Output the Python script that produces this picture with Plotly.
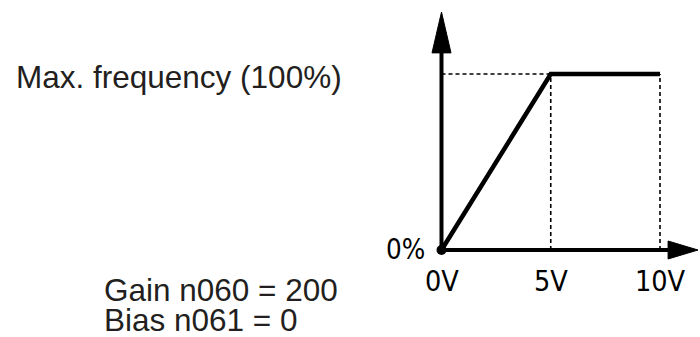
import plotly.graph_objects as go

# ---- data ----
volts = [0, 5, 10]                 # input voltage (V)
freq_pct = [0, 100, 100]           # output frequency (% of max)
tick_volts = [0, 5, 10]
tick_labels = ["0V", "5V", "10V"]
y_label_0 = "0%"
max_label = "Max. frequency (100%)"
gain_text = "Gain n060 = 200"
bias_text = "Bias n061 = 0"
x_axis_end = 10.37    # where x-axis shaft ends (V)
x_arrow_tip = 11.74
y_axis_end = 112.0    # where y-axis shaft ends (%)
y_arrow_tip = 135.2

# pixel-ish scaling of the frame
W, H = 700, 337
x0_px, x10_px = 441.5, 660.0
y0_px, y100_px = 250.0, 74.0
sx = (x10_px - x0_px) / 10.0
sy = (y0_px - y100_px) / 100.0
x_range = [-x0_px / sx, (W - x0_px) / sx]
y_range = [-(H - y0_px) / sy, y0_px / sy]

# arrowhead half-sizes in data units
ax_half_w = 9.5 / sx
ay_half_h = 9.0 / sy

fig = go.Figure()

# dashed guide lines
dash = dict(color="black", width=1.6, dash="4px,3px")
fig.add_trace(go.Scatter(x=[0, volts[1]], y=[freq_pct[1], freq_pct[1]], mode="lines", line=dash))
fig.add_trace(go.Scatter(x=[volts[1], volts[1]], y=[0, freq_pct[1]], mode="lines", line=dash))
fig.add_trace(go.Scatter(x=[volts[2], volts[2]], y=[0, freq_pct[2]], mode="lines", line=dash))

# axes shafts
fig.add_trace(go.Scatter(x=[0, x_axis_end], y=[0, 0], mode="lines", line=dict(color="black", width=4)))
fig.add_trace(go.Scatter(x=[0, 0], y=[0, y_axis_end], mode="lines", line=dict(color="black", width=4)))

# arrowheads
fig.add_trace(go.Scatter(x=[x_axis_end, x_arrow_tip, x_axis_end, x_axis_end],
                         y=[-ay_half_h, 0, ay_half_h, -ay_half_h],
                         mode="lines", fill="toself", fillcolor="black", line=dict(color="black", width=1)))
fig.add_trace(go.Scatter(x=[-ax_half_w, 0, ax_half_w, -ax_half_w],
                         y=[y_axis_end, y_arrow_tip, y_axis_end, y_axis_end],
                         mode="lines", fill="toself", fillcolor="black", line=dict(color="black", width=1)))

# characteristic line
fig.add_trace(go.Scatter(x=volts, y=freq_pct, mode="lines", line=dict(color="black", width=4.5)))
fig.add_trace(go.Scatter(x=[volts[0]], y=[freq_pct[0]], mode="markers",
                         marker=dict(color="black", size=10)))

narrow = "DejaVu Sans Condensed, Liberation Sans Narrow, Arial Narrow, sans-serif"
for v, lab in zip(tick_volts, tick_labels):
    fig.add_annotation(x=v, y=0, text=lab, showarrow=False, yshift=-31,
                       xanchor="center", yanchor="middle",
                       font=dict(family=narrow, size=28.5, color="black"))
fig.add_annotation(x=0, y=0, text=y_label_0, showarrow=False, xshift=-36, yshift=1,
                   xanchor="center", yanchor="middle",
                   font=dict(family=narrow, size=27.5, color="black"))

main_font = dict(family="Liberation Sans, Arial, Helvetica, sans-serif", size=31.5, color="#231f20")
fig.add_annotation(x=14 / W, y=1 - 77 / H, xref="paper", yref="paper", text=max_label,
                   showarrow=False, xanchor="left", yanchor="middle", font=main_font)
fig.add_annotation(x=102 / W, y=1 - 290 / H, xref="paper", yref="paper", text=gain_text,
                   showarrow=False, xanchor="left", yanchor="middle", font=main_font)
fig.add_annotation(x=102 / W, y=1 - 320 / H, xref="paper", yref="paper", text=bias_text,
                   showarrow=False, xanchor="left", yanchor="middle", font=main_font)

fig.update_layout(
    width=W, height=H, margin=dict(l=0, r=0, t=0, b=0),
    paper_bgcolor="white", plot_bgcolor="white", showlegend=False,
    xaxis=dict(range=x_range, visible=False, fixedrange=True),
    yaxis=dict(range=y_range, visible=False, fixedrange=True),
)
fig.write_html("out.html", config={"displayModeBar": False},
               post_script="document.body.style.margin='0';document.body.style.overflow='hidden';")
